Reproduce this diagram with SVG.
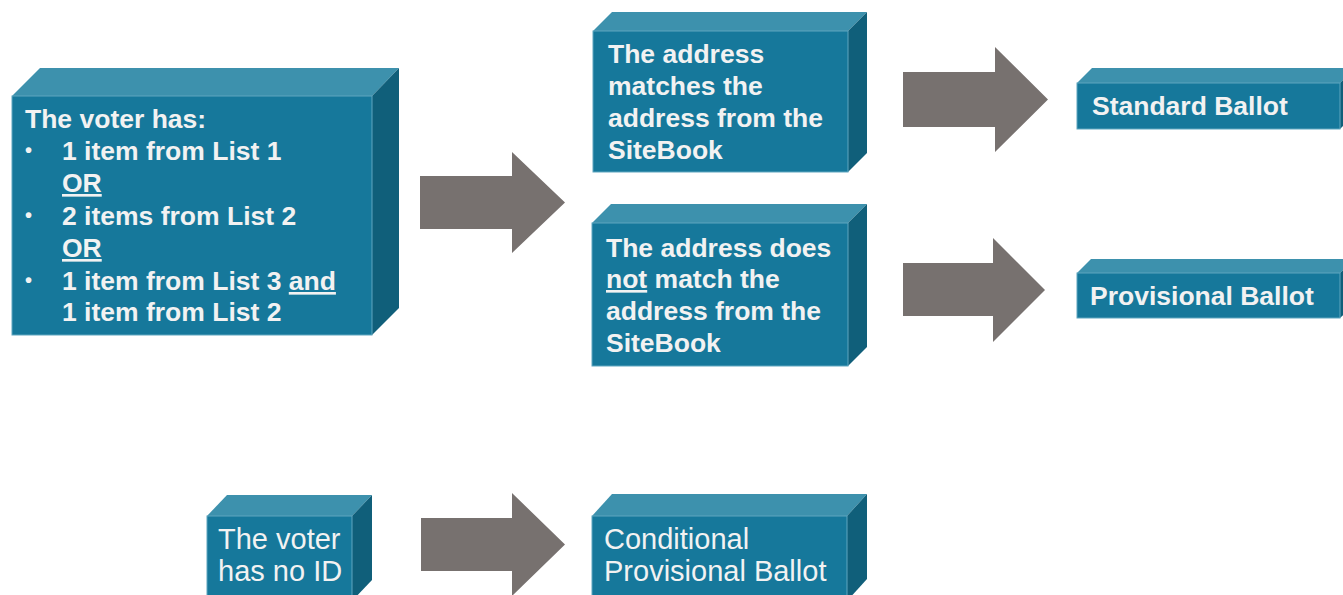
<svg xmlns="http://www.w3.org/2000/svg" width="1343" height="595" viewBox="0 0 1343 595">
<defs>
<style>
.front{fill:#16789b;stroke:#5fa6bf;stroke-width:1}
.top{fill:#3d91ad}
.side{fill:#105f7a}
.arrow{fill:#77716f}
.tb{font-family:"Liberation Sans",Arial,sans-serif;font-weight:bold;font-size:26.5px;fill:#f2f2f2}
.bul{font-family:"Liberation Sans",Arial,sans-serif;font-weight:bold;font-size:20px;fill:#f2f2f2}
.tr{font-family:"Liberation Sans",Arial,sans-serif;font-size:29px;fill:#f2f2f2}
.u{text-decoration:underline}
</style>
</defs>
<rect width="1343" height="595" fill="#ffffff"/>
<g id="connectors">
<path class="arrow" d="M420,176 H512 V152 L565,202.5 L512,253 V229 H420 Z"/>
<path class="arrow" d="M903,72 H995 V47 L1048,99.5 L995,152 V127 H903 Z"/>
<path class="arrow" d="M903,263 H993 V238 L1045,290 L993,342 V316 H903 Z"/>
<path class="arrow" d="M421,518 H512 V493 L565,544.5 L512,596 V571 H421 Z"/>
</g>
<g id="node-voter-has">
<polygon class="top" points="12,96 40,68 399,68 372,96"/>
<polygon class="side" points="372,96 399,68 399,308 372,335"/>
<rect class="front" x="12" y="96" width="360" height="239"/>
<text class="tb" x="25" y="128">The voter has:</text>
<text class="bul" x="25" y="157">•</text><text class="tb" x="62" y="160">1 item from List 1</text>
<text class="tb u" x="62" y="192">OR</text>
<text class="bul" x="25" y="222">•</text><text class="tb" x="62" y="225">2 items from List 2</text>
<text class="tb u" x="62" y="257">OR</text>
<text class="bul" x="25" y="287">•</text><text class="tb" x="62" y="290">1 item from List 3 <tspan class="u">and</tspan></text>
<text class="tb" x="62" y="321">1 item from List 2</text>
</g>
<g id="node-address-matches">
<polygon class="top" points="593,31 612,12 867,12 848,31"/>
<polygon class="side" points="848,31 867,12 867,153 848,172"/>
<rect class="front" x="593" y="31" width="255" height="141"/>
<text class="tb" x="608" y="63">The address</text>
<text class="tb" x="608" y="95">matches the</text>
<text class="tb" x="608" y="127">address from the</text>
<text class="tb" x="608" y="159">SiteBook</text>
</g>
<g id="node-address-not-match">
<polygon class="top" points="592,223 611,204 867,204 848,223"/>
<polygon class="side" points="848,223 867,204 867,347 848,366"/>
<rect class="front" x="592" y="223" width="256" height="143"/>
<text class="tb" x="606" y="257">The address does</text>
<text class="tb" x="606" y="288"><tspan class="u">not</tspan> match the</text>
<text class="tb" x="606" y="320">address from the</text>
<text class="tb" x="606" y="352">SiteBook</text>
</g>
<g id="node-standard-ballot">
<polygon class="top" points="1077,83 1092,68 1355,68 1340,83"/>
<polygon class="side" points="1340,83 1355,68 1355,114 1340,129"/>
<rect class="front" x="1077" y="83" width="263" height="46"/>
<text class="tb" x="1092" y="115">Standard Ballot</text>
</g>
<g id="node-provisional-ballot">
<polygon class="top" points="1077,273 1091,259 1355,259 1340,273"/>
<polygon class="side" points="1340,273 1355,259 1355,304 1340,318"/>
<rect class="front" x="1077" y="273" width="263" height="45"/>
<text class="tb" x="1090" y="305">Provisional Ballot</text>
</g>
<g id="node-no-id">
<polygon class="top" points="207,516 227,495 372,495 352,516"/>
<polygon class="side" points="352,516 372,495 372,580 352,601"/>
<rect class="front" x="207" y="516" width="145" height="85"/>
<text class="tr" x="218" y="549">The voter</text>
<text class="tr" x="218" y="581">has no ID</text>
</g>
<g id="node-conditional">
<polygon class="top" points="592,516 612,494 867,494 847,516"/>
<polygon class="side" points="847,516 867,494 867,579 847,601"/>
<rect class="front" x="592" y="516" width="255" height="85"/>
<text class="tr" x="604" y="549">Conditional</text>
<text class="tr" x="604" y="581">Provisional Ballot</text>
</g>
</svg>
